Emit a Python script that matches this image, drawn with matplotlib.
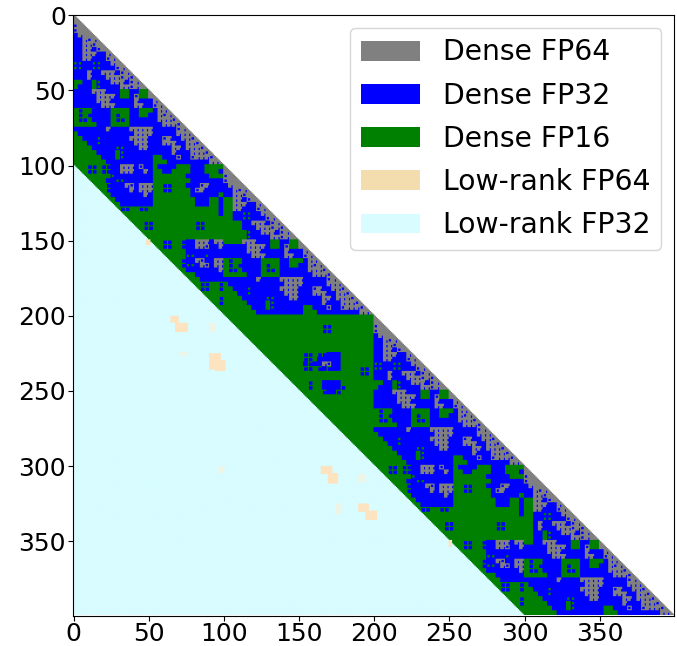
from __future__ import annotations

import matplotlib

matplotlib.use("Agg")
import matplotlib.pyplot as plt
import numpy as np
from matplotlib.colors import ListedColormap
from matplotlib.patches import Patch

N = 400
LABELS = ["Dense FP64", "Dense FP32", "Dense FP16", "Low-rank FP64", "Low-rank FP32"]
LEGEND_COLORS = ["#808080", "#0000ff", "#008000", "#f3dcae", "#d8fcff"]
TICKS = [0, 50, 100, 150, 200, 250, 300, 350]

# precision pattern, one char per 1/128 of the matrix
# g FP64, b FP32, G FP16, ":" FP32 dot in FP16, "o" FP32 dot in FP64,
# "x" FP64 with an FP32 notch, "+" FP16 dot in FP32
DIAG_TILE = [
    "g",
    "gg",
    "ogg",
    "oggg",
    "bxggg",
    "bbxoxg",
    "bbxxogg",
    "bbxxbogg",
    "bbxxxbbxg",
    "bbxxbbboxg",
    "++bb++bb xgg",
    "++bb++bb boxg",
    "bbbxbbxx xboxg",
    "bbbxbbbx xxoxog",
    "GGbbG+bb xxxboxg",
    "GbbbG+bb bbxxoxgg",
    "bbbbxxxb bbGGbbGG g",
    "bbbbbxxx xbGGboGG gg",
    "bbbbbxxx bbbbbxbb bxg",
    "bbbbbbxx xbbbbxxb boxg",
    "G:GGbbbb GGGGbbGG Gbxxg",
    "G:G:bbbb G:GGbbGG bbxoxg",
    "G::Gbbbb G::Gbbbb bbxxxog",
    "GGGGGbbb GGGGbbbb bbbxxxog",
    "bbbbbbbx bbbbxxxx xbbbbbox g",
    "Gbbbbbbb bbbbbxxx xbbbbbxx xg",
    "GGbbb+bb bbbbxxxx bbboxbbx xog",
    "GGGbb+bb bbbbbxxx bbbxxxbb xxog",
    "GGGGbbbb b++bbbxx bbbbbxxb xxxog",
    "GGGGGbbb bG+bbbbb bbbbbxbb bxxxog",
    "GGGGGGbb bG+bbbbb bGGbbbob boxxxog",
    "GGGGGGGb bbbbbbbb bGGGbbbb bbbbbxxg",
]

OFFDIAG_TILE = [
    "GGG::G:: bbxxxbob bGbbbbGG GbbbGGGG",
    "GGG::G:: bbxxxbbx bGGbbGGG GbbbGGGb",
    "GGGGGGGG +bbbbbbb bGGGGGGG bbbbbGGG",
    "GGGGGGGb b++bbbbb bGGGGGGG Gbbbbbbb",
    "GGGGGGG: bbbxobxx xGG::GGG bbboxbbb",
    "GGGGGGG: bbbbxbxx xGG::GGG Gboxbbbb",
    "GGGGGGGG bbbbbbbx bGGGGGGG GbbbbbbG",
    "GGGGGGGG Gbbbbbbb bGGGGGGG GGbbbGGb",
    "GGGGGGGG GGbbbbbb bGGGGGGG GGbbbGGb",
    "GGGGGGGG GG::GG:: GGGGGGGG GGGGGGGb",
    "GGGGGGGG GGGGGGGG GGGGGGGG GGGGGGGb",
    "GGGGGGGG GGGGGGGG GGGGGGGG GGGGGGGG",
    "GGGGGGGG GGGGGGG: :GGGGGGG GG::GGGG",
    "GGGGGGGG GGGGGGG: :GGGGGGG GG::GGGG",
    "GGGGGGGG GGGGGGGG GGGGGGGG GGGGGGGG",
    "GGGGGGGG GGGGGGGG GGGGGGGG GGGGGGGG",
    "GGGGGGGG GGGGGGGG GGG::GG: bbxxxbxx",
    "GGGGGGGG GGGGGGGG GGG::GG: bbxxobbx",
    "GGGGGGGG GGGGGGGG GGGGGGGG bbbbbbbb",
    "GGGGGGGG GGGGGGGG GGGGGGGG ++bb+bbb",
    "GGGGGGGG GGGGGGGG GGGGGGG: bbxobbxx",
    "GGGGGGGG GGGGGGGG GGGGGGG: ++bxobxx",
    "GGGGGGGG GGGGGGGG GGGGGGGG bbbbbbbx",
    "GGGGGGGG GGGGGGGG GGGGGGGG GGbbbbbb",
    "GGGGGGGG GGGGGGGG GGGGGGGG GGGbbbbb",
    "GGGGGGGG GGGGGGGG GGGGGGGG GGG::GG:",
    "GGGGGGGG GGGGGGGG GGGGGGGG GGG::GG:",
    "GGGGGGGG GGGGGGGG GGGGGGGG GGGGGGGG",
    "GGGGGGGG GGGGGGGG GGGGGGGG GGGGGGG:",
    "GGGGGGGG GGGGGGGG GGGGGGGG GGGGGGG:",
    "GGGGGGGG GGGGGGGG GGGGGGGG GGGGGGGG",
    "GGGGGGGG GGGGGGGG GGGGGGGG GGGGGGGG",
]

GREEN_TILE = [
    "GGGGGGGG GGGGGGGG GGGGGGGG GGGGGGGG",
    "GGGGGGGG GGGGGGGG GGGGGGGG GGGGGGGG",
    "GGGGGGGG GGGGGGGG GGGGG::G GGGGGGGG",
    "GGGGGGGG GGGGGGGG GGGGG::G GGGGGGGG",
    "GGGGGGGG GGGGGGGG GGGGGGGG GGGGGGGG",
    "GGGGGGGG GGGGGGGG GGGGGGGG GGGGGGGG",
    "GGGGGGGG GGGGGGGG GGGGGGGG GGGGGGGG",
    "GGGGGGGG GGGGGGGG GGGGGGGG GGGGGGGG",
    "GGGGGGGG GGGGGGGG G::G::bb bGGGGGGG",
    "GGGGGGGG GGGGGGGG G::Gbbbb bGGGGGGG",
    "GGGGGGGG GGGGGGGG Gb:bbxob bGGGGGGG",
    "GGGGGGGG GGGGGGGG G::G:b:b bGGGG::G",
    "GGGGGGGG GGGGGGGG GGGGGGGG GGGGG::G",
    "GGGGGGGG GGGGGGGG GGGGGGGG GGGGGGGG",
    "GGGGGGGG GGGGGGGG GG:GGbbb bGGGGGGG",
    "GGGGGGGG GGGGGGGG GG:GGbbb b:GGGGGG",
    "GGGGGGGG GGGGGGGG GGGGG:bb :GGGGGGG",
] + ["GGGGGGGG GGGGGGGG GGGGGGGG GGGGGGGG"] * 15

# extra FP16 wedges next to the diagonal tile: first row, last row, first col, last col
GREEN_PATCHES = [(39, 48, 32, 33), (44, 48, 34, 35), (103, 112, 96, 97)]

# low-rank FP64 blocks in matrix cells: first row, last row, first col, last col
FP64_BLOCKS = [
    (201, 206, 65, 71),
    (206, 212, 68, 77),
    (226, 237, 91, 99),
    (231, 238, 95, 102),
    (301, 307, 165, 173),
    (306, 313, 170, 177),
    (326, 332, 190, 197),
    (331, 337, 195, 203),
    (150, 154, 49, 52),
    (350, 355, 250, 253),
]
FAINT_BLOCKS = [
    (206, 212, 91, 95),
    (225, 228, 71, 77),
    (301, 306, 97, 101),
    (307, 312, 190, 195),
    (326, 333, 175, 179),
]

CODES = {"g": 1, "b": 2, "G": 3}
SUB = 4
GRID = 128


def paint(fine: np.ndarray, tile: list[str], row0: int, col0: int) -> None:
    for i, text in enumerate(tile):
        for j, ch in enumerate(text.replace(" ", "")):
            r, c = (row0 + i) * SUB, (col0 + j) * SUB
            cell = fine[r : r + SUB, c : c + SUB]
            if ch == ":":
                cell[:] = 3
                cell[1:, 1:] = 2
            elif ch == "o":
                cell[:] = 1
                cell[1:3, 1:3] = 2
            elif ch == "x":
                cell[:] = 1
                cell[2:, 3:] = 2
            elif ch == "+":
                cell[:] = 2
                cell[1:3, 1:3] = 3
            else:
                cell[:] = CODES[ch]


def build_matrix() -> np.ndarray:
    size = GRID * SUB
    fine = np.zeros((size, size), dtype=int)
    for start in (0, 32, 64, 96):
        paint(fine, DIAG_TILE, start, start)
    paint(fine, OFFDIAG_TILE, 32, 0)
    paint(fine, OFFDIAG_TILE, 96, 64)
    paint(fine, GREEN_TILE, 64, 32)
    for r0, r1, c0, c1 in GREEN_PATCHES:
        fine[r0 * SUB : (r1 + 1) * SUB, c0 * SUB : (c1 + 1) * SUB] = 3

    rows, cols = np.indices(fine.shape)
    fine[rows < cols] = 0
    fine[rows - cols >= size // 4] = 5

    scale = size / N
    for blocks, code in ((FP64_BLOCKS, 4), (FAINT_BLOCKS, 6)):
        for r0, r1, c0, c1 in blocks:
            fine[int(r0 * scale) : int(r1 * scale), int(c0 * scale) : int(c1 * scale)] = code
    return fine


def main() -> None:
    matrix = build_matrix()
    cmap = ListedColormap(
        ["#ffffff", "#808080", "#0000ff", "#008000", "#fde3bf", "#d8fcff", "#eef4e6"]
    )

    fig = plt.figure(figsize=(6.77, 6.46), dpi=100)
    ax = fig.add_axes([73 / 677, 1 - 615.5 / 646, 601 / 677, 601 / 646])
    ax.imshow(
        cmap(matrix),
        extent=(-0.5, N - 0.5, N - 0.5, -0.5),
        interpolation="hanning",
        aspect="auto",
    )
    ax.set_xticks(TICKS)
    ax.set_yticks(TICKS)
    ax.tick_params(labelsize=18, length=3.5, pad=1.5)

    handles = [Patch(facecolor=c, edgecolor="none") for c in LEGEND_COLORS]
    ax.legend(
        handles,
        LABELS,
        fontsize=20.3,
        loc="upper right",
        bbox_to_anchor=(0.979, 0.978),
        borderaxespad=0,
        handlelength=2.09,
        handleheight=0.71,
        handletextpad=0.82,
        labelspacing=0.54,
        borderpad=0.38,
    )
    fig.savefig("out.png", dpi=100)
    plt.close(fig)


if __name__ == "__main__":
    main()
